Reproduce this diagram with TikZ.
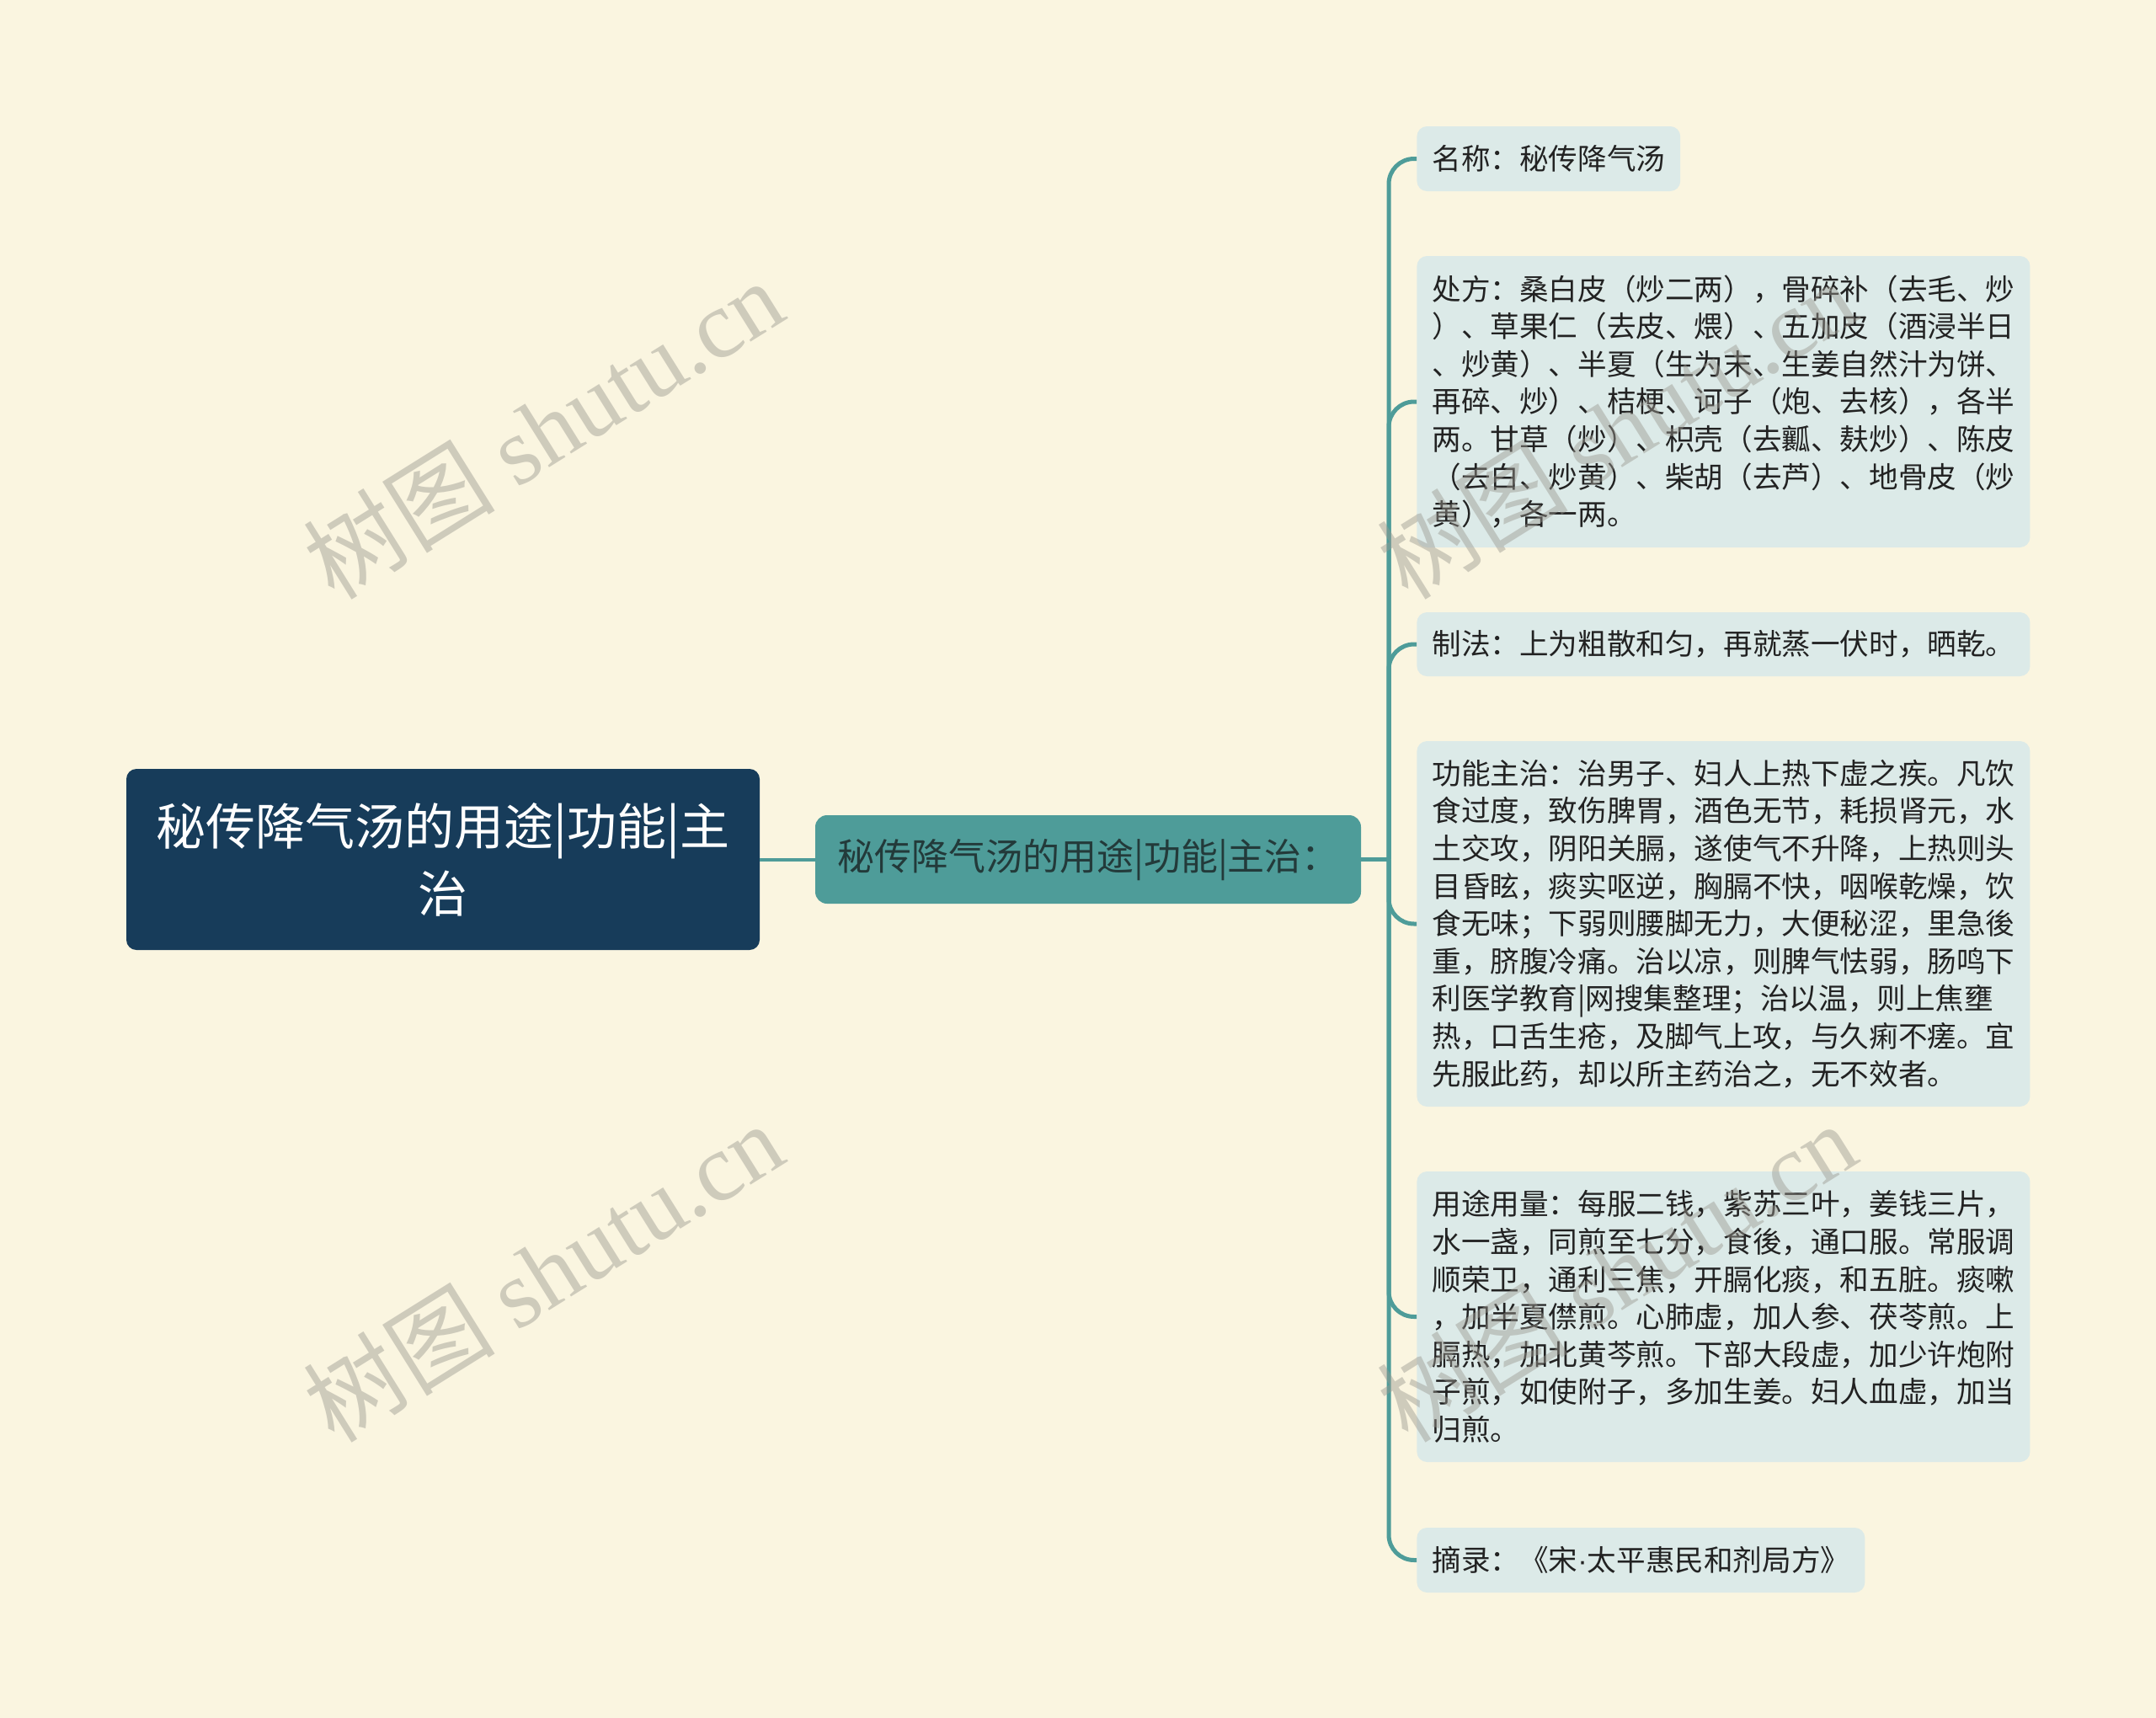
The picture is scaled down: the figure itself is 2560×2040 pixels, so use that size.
\documentclass[tikz,border=0pt]{standalone}
\usepackage{fontspec}
\setmainfont{Noto Sans CJK SC}
\newfontfamily\wmserif{Liberation Serif}
\newfontfamily\latinsans{Liberation Sans}
\definecolor{bg}{HTML}{FAF5E0}
\definecolor{rootc}{HTML}{173C5A}
\definecolor{secc}{HTML}{4E9C99}
\definecolor{leafc}{HTML}{DCEAE8}
\definecolor{linec}{HTML}{4E9C99}
\definecolor{txt}{HTML}{222222}
\definecolor{sectxt}{HTML}{233A3A}
\definecolor{wmc}{HTML}{9A9890}
\begin{document}
\begin{tikzpicture}[x=0.5pt,y=-0.5pt,
  rootbox/.style={rectangle, rounded corners=6pt, fill=rootc, text=white, minimum width=376pt, minimum height=107.5pt, align=center, inner sep=0pt, font=\fontsize{29.5pt}{40pt}\selectfont},
  secbox/.style={rectangle, rounded corners=7pt, fill=secc, text=sectxt, minimum width=324pt, minimum height=52.5pt, inner sep=0pt, font=\fontsize{22pt}{26pt}\selectfont},
  leafbox/.style={rectangle, rounded corners=6pt, fill=leafc, text=txt, anchor=west, inner xsep=9pt, inner ysep=0pt, align=left, font=\fontsize{17.3pt}{22.3pt}\selectfont},
  wide/.style={text width=346pt},
  conn/.style={draw=linec, line width=2pt},
  bracket/.style={draw=linec, line width=2.5pt, rounded corners=15pt},
  wm/.style={rotate=32, text=wmc, opacity=0.45, inner sep=0pt, font=\fontsize{57pt}{57pt}\selectfont}
]
\fill[bg] (0,0) rectangle (2560,2040);
\useasboundingbox (0,0) rectangle (2560,2040);

\node[rootbox] (root) at (526,1020.5) {秘传降气汤的用途|功能|主\\治};
\node[secbox] (sec) at (1292,1020.5) {秘传降气汤的用途|功能|主治：};
\coordinate (junc) at (1649,1020.5);

\node[leafbox, minimum height=38.5pt] (l1) at (1682,188.5) {名称：秘传降气汤};
\node[leafbox, wide, minimum height=173pt] (l2) at (1682,477) {处方：桑白皮（炒二两），骨碎补（去毛、炒\\）、草果仁（去皮、煨）、五加皮（酒浸半日\\、炒黄）、半夏（生为末、生姜自然汁为饼、\\再碎、炒）、桔梗、诃子（炮、去核），各半\\两。甘草（炒）、枳壳（去瓤、麸炒）、陈皮\\（去白、炒黄）、柴胡（去芦）、地骨皮（炒\\黄），各一两。};
\node[leafbox, wide, minimum height=38pt] (l3) at (1682,765) {制法：上为粗散和匀，再就蒸一伏时，晒乾。};
\node[leafbox, wide, minimum height=217pt] (l4) at (1682,1097) {功能主治：治男子、妇人上热下虚之疾。凡饮\\食过度，致伤脾胃，酒色无节，耗损肾元，水\\土交攻，阴阳关膈，遂使气不升降，上热则头\\目昏眩，痰实呕逆，胸膈不快，咽喉乾燥，饮\\食无味；下弱则腰脚无力，大便秘涩，里急後\\重，脐腹冷痛。治以凉，则脾气怯弱，肠鸣下\\利医学教育|网搜集整理；治以温，则上焦壅\\热，口舌生疮，及脚气上攻，与久痢不瘥。宜\\先服此药，却以所主药治之，无不效者。};
\node[leafbox, wide, minimum height=172.5pt] (l5) at (1682,1563.5) {用途用量：每服二钱，紫苏三叶，姜钱三片，\\水一盏，同煎至七分，食後，通口服。常服调\\顺荣卫，通利三焦，开膈化痰，和五脏。痰嗽\\，加半夏僸煎。心肺虚，加人参、茯苓煎。上\\膈热，加北黄芩煎。下部大段虚，加少许炮附\\子煎，如使附子，多加生姜。妇人血虚，加当\\归煎。};
\node[leafbox, minimum height=38.5pt] (l6) at (1682,1852.5) {摘录：《宋{\latinsans ·}太平惠民和剂局方》};

\draw[conn] (root.east) -- (sec.west);
\draw[conn, line width=2.5pt] (sec.east) -- (junc);
\foreach \n in {l1,l2,l3,l4,l5,l6}
  \draw[bracket] (junc) |- (\n.west);

\node[wm] (wm1) at (645,509) {树图 {\wmserif shutu.cn}};
\node[wm] (wm2) at (645,1510) {树图 {\wmserif shutu.cn}};
\node[wm] (wm3) at (1919,509) {树图 {\wmserif shutu.cn}};
\node[wm] (wm4) at (1919,1510) {树图 {\wmserif shutu.cn}};
\end{tikzpicture}
\end{document}
